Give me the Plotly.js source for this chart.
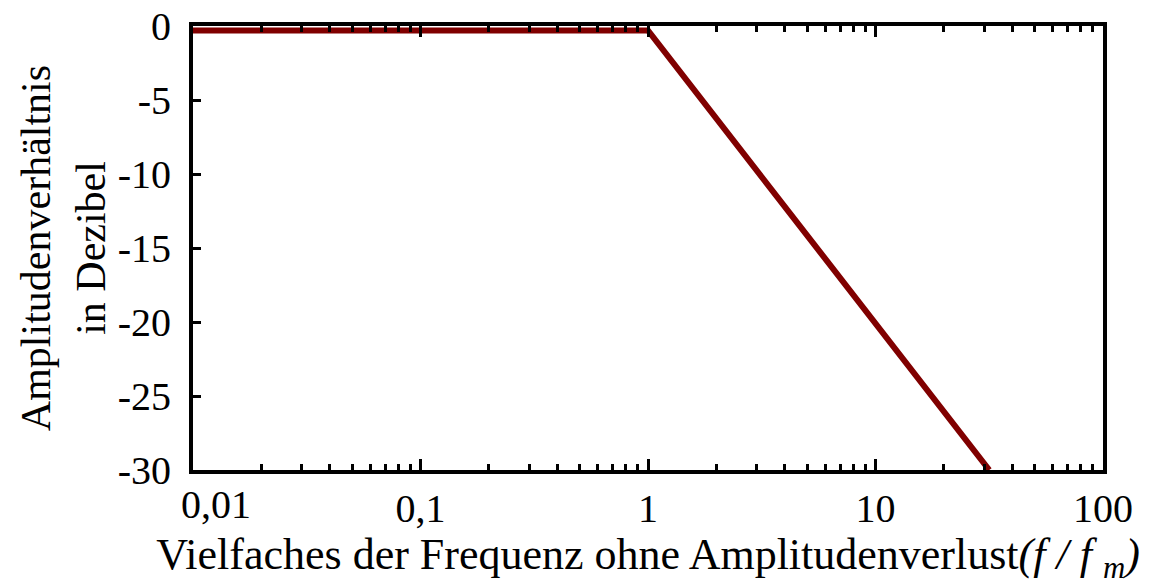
<!DOCTYPE html>
<html>
<head>
<meta charset="utf-8">
<script src="https://cdn.plot.ly/plotly-3.0.1.min.js"></script>
<style>html,body{margin:0;padding:0;background:#fff;}#chart{width:1150px;height:585px;}</style>
</head>
<body>
<div id="chart"></div>
<script>
// Data
const frequencyRatio = [0.01, 1, 31.62];
const amplitudeDb = [-0.3, -0.3, -30];
const xTickVals = [0.01, 0.1, 1, 10, 100];
const xTickText = ['0,01', '0,1', '1', '10', '100'];
const yTickVals = [0, -5, -10, -15, -20, -25, -30];
const yTickText = ['0', '-5', '-10', '-15', '-20', '-25', '-30'];
const minorDigits = [2, 3, 4, 5, 6, 7, 8, 9];
const decades = [0.01, 0.1, 1, 10];

const minorVals = [];
decades.forEach(d => minorDigits.forEach(m => minorVals.push(m * d)));

const serif = "'Liberation Serif', 'Times New Roman', serif";

const trace = {
  x: frequencyRatio,
  y: amplitudeDb,
  type: 'scatter',
  mode: 'lines',
  line: {color: '#800000', width: 6},
  hoverinfo: 'skip'
};

const layout = {
  width: 1150,
  height: 585,
  margin: {l: 193, r: 47, t: 26, b: 115},
  paper_bgcolor: '#ffffff',
  plot_bgcolor: '#ffffff',
  showlegend: false,
  font: {family: serif, color: '#000', size: 40},
  xaxis: {
    type: 'log',
    range: [-2, 2],
    tickvals: xTickVals.slice(1),
    ticktext: xTickText.slice(1),
    ticks: 'inside',
    ticklen: 11,
    tickwidth: 3,
    tickcolor: '#000',
    minor: {tickvals: minorVals, ticks: 'inside', ticklen: 6, tickwidth: 3, tickcolor: '#000', showgrid: false},
    showgrid: false,
    zeroline: false,
    showline: true,
    linecolor: '#000',
    linewidth: 4,
    mirror: 'ticks',
    tickfont: {family: serif, size: 40, color: '#000'},
    title: {
      text: 'Vielfaches der Frequenz ohne Amplitudenverlust<i>(f / f <sub>m</sub>)</i>',
      font: {family: serif, size: 44, color: '#000'},
      standoff: 10
    }
  },
  yaxis: {
    range: [-30, 0],
    tickvals: yTickVals,
    ticktext: yTickText,
    ticks: 'inside',
    ticklen: 8,
    tickwidth: 3,
    tickcolor: '#000',
    ticklabelstandoff: 10,
    showgrid: false,
    zeroline: false,
    showline: true,
    linecolor: '#000',
    linewidth: 4,
    mirror: true,
    tickfont: {family: serif, size: 40, color: '#000'},
    title: {
      text: 'Amplitudenverhältnis<br>in Dezibel',
      font: {family: serif, size: 42, color: '#000'},
      standoff: 0
    }
  },
  annotations: [{
    x: Math.log10(xTickVals[0]),
    y: 0,
    xref: 'x',
    yref: 'paper',
    text: xTickText[0],
    showarrow: false,
    xanchor: 'center',
    yanchor: 'top',
    xshift: 23,
    yshift: -10,
    font: {family: serif, size: 40, color: '#000'}
  }]
};

Plotly.newPlot('chart', [trace], layout, {displayModeBar: false, staticPlot: true});
</script>
</body>
</html>
